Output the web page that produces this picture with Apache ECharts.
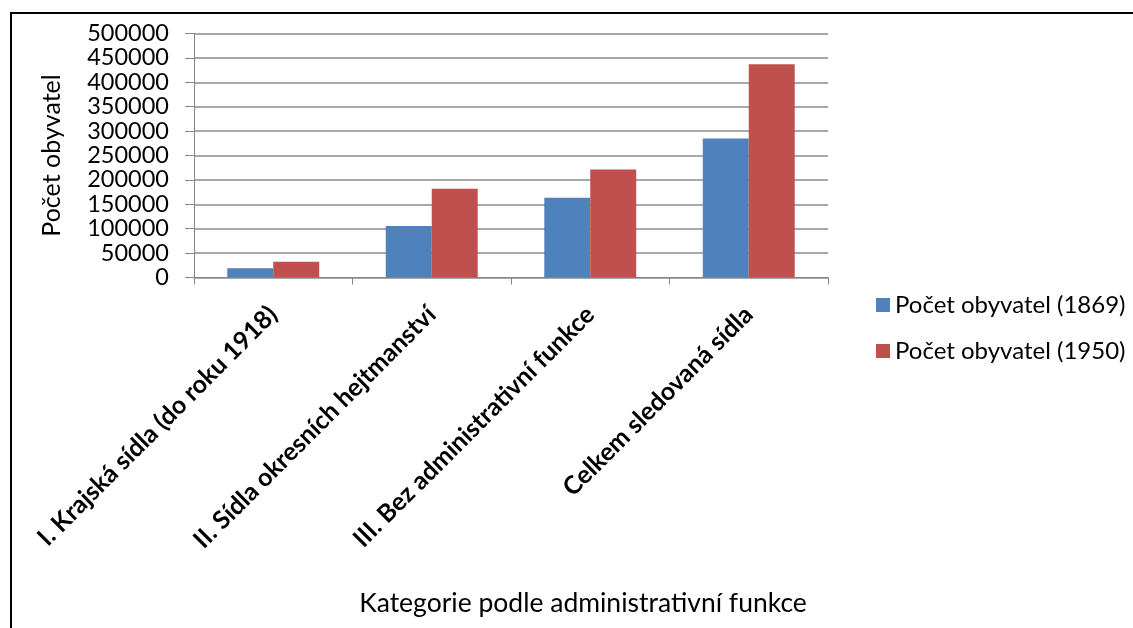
<!DOCTYPE html>
<html><head><meta charset="utf-8">
<script src="https://cdn.jsdelivr.net/npm/echarts@6/dist/echarts.min.js"></script>
<style>html,body{margin:0;padding:0;background:#fff}#c{width:1133px;height:628px}</style>
</head><body><div id="c"></div>
<script>
const categories = ["I. Krajská sídla (do roku 1918)", "II. Sídla okresních hejtmanství", "III. Bez administrativní funkce", "Celkem sledovaná sídla"];
const seriesNames = ["Počet obyvatel (1869)", "Počet obyvatel (1950)"];
const pop1869 = [19000, 105500, 163500, 285000];
const pop1950 = [32500, 182000, 221500, 437000];
const yTicks = [0, 50000, 100000, 150000, 200000, 250000, 300000, 350000, 400000, 450000, 500000];

const FONT = 'Lato';
const chart = echarts.init(document.getElementById('c'));
chart.setOption({
  animation: false,
  textStyle: { fontFamily: FONT, color: '#000' },
  graphic: [{ type: 'rect', shape: { x: 11, y: 13, width: 1200, height: 700 }, style: { fill: 'none', stroke: '#000', lineWidth: 2 }, z: 100 }],
  grid: { left: 194, right: 305, top: 33.5, bottom: 350.5, containLabel: false },
  legend: {
    orient: 'vertical', left: 871, top: 288, itemGap: 22, itemWidth: 14, itemHeight: 14, itemGap: 22, itemStyle: { borderWidth: 0 },
    icon: 'rect', textStyle: { fontFamily: FONT, fontSize: 24, color: '#000' },
    data: seriesNames
  },
  xAxis: {
    type: 'category', data: categories,
    name: 'Kategorie podle administrativní funkce', nameLocation: 'middle', nameGap: 312,
    nameTextStyle: { fontFamily: FONT, fontSize: 26.5, color: '#000', padding: [0, 0, 0, 144] },
    axisLine: { lineStyle: { color: '#868686', width: 1 } },
    axisTick: { show: true, length: 7, lineStyle: { color: '#868686' } },
    axisLabel: { rotate: 45, fontWeight: 'bold', fontSize: 25, color: '#000', fontFamily: FONT, margin: 33, interval: 0 }
  },
  yAxis: {
    type: 'value', min: 0, max: 500000, interval: 50000,
    name: 'Počet obyvatel', nameLocation: 'middle', nameGap: 130, nameRotate: 90,
    nameTextStyle: { fontFamily: FONT, fontSize: 25, color: '#000' },
    axisLine: { show: true, lineStyle: { color: '#868686' } },
    axisTick: { show: true, length: 9, lineStyle: { color: '#868686' } },
    splitLine: { lineStyle: { color: '#8c8c8c', width: 1.5 } },
    axisLabel: { fontSize: 23.5, color: '#000', fontFamily: FONT, margin: 25,
      formatter: v => yTicks.includes(v) ? String(v) : '' }
  },
  series: [
    { name: seriesNames[0], type: 'bar', data: pop1869, barGap: '0%', barCategoryGap: '42%', itemStyle: { color: '#4f81bd' } },
    { name: seriesNames[1], type: 'bar', data: pop1950, barGap: '0%', barCategoryGap: '42%', itemStyle: { color: '#c0504d' } }
  ]
});
</script></body></html>
